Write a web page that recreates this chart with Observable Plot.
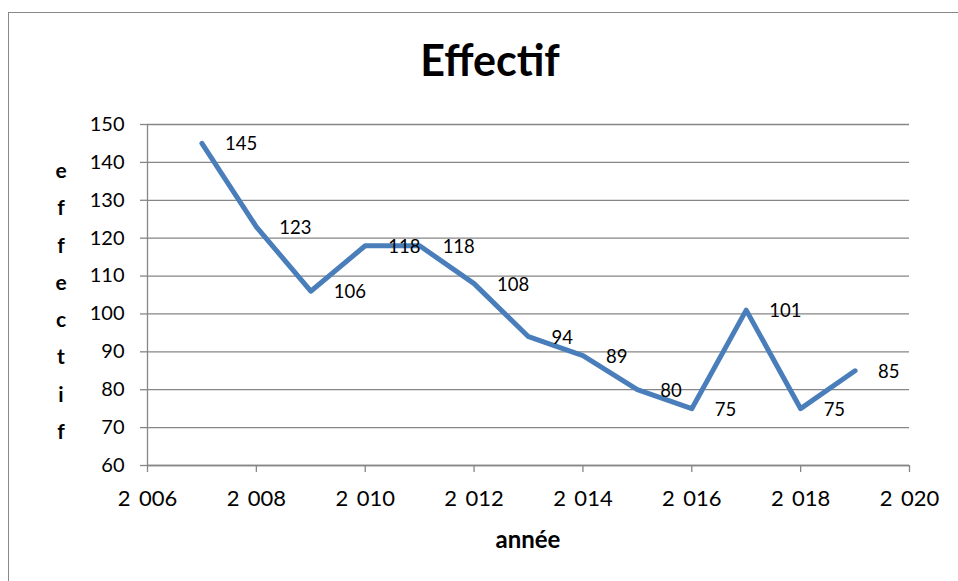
<!DOCTYPE html>
<html>
<head>
<meta charset="utf-8">
<script src="https://cdn.jsdelivr.net/npm/d3@7"></script>
<script src="https://cdn.jsdelivr.net/npm/@observablehq/plot@0.6"></script>
<style>
  html, body { margin: 0; padding: 0; background: #fff; overflow: hidden; }
  #wrap { position: relative; width: 958px; height: 581px; overflow: hidden; font-family: Lato, "Open Sans", sans-serif; }
  #frame { position: absolute; left: 8px; top: 12px; width: 1000px; height: 600px; border: 1.5px solid #888; box-sizing: border-box; }
  #title { position: absolute; left: 0; width: 980px; top: 34px; text-align: center; font-weight: 700; font-size: 43px; color: #000; }
  #xlabel { position: absolute; left: 0; width: 1056px; top: 524px; text-align: center; font-weight: 700; font-size: 24px; color: #000; }
  #ylabel { position: absolute; left: 50px; width: 22px; top: 151px; text-align: center; font-weight: 700; font-size: 21px; line-height: 37.3px; color: #000; }
  #chart { position: absolute; left: 0; top: 0; }
</style>
</head>
<body>
<div id="wrap">
  <div id="frame"></div>
  <div id="chart"></div>
  <div id="title">Effectif</div>
  <div id="ylabel"></div>
  <div id="xlabel">année</div>
</div>
<script>
const years = [2007, 2008, 2009, 2010, 2011, 2012, 2013, 2014, 2015, 2016, 2017, 2018, 2019];
const effectif = [145, 123, 106, 118, 118, 108, 94, 89, 80, 75, 101, 75, 85];
const xTicks = [2006, 2008, 2010, 2012, 2014, 2016, 2018, 2020];
const yTicks = [60, 70, 80, 90, 100, 110, 120, 130, 140, 150];
const yLabel = "effectif";

const data = years.map((y, i) => ({annee: y, effectif: effectif[i]}));
const fmtYear = d => `${Math.floor(d / 1000)}\u2009 ${String(d % 1000).padStart(3, "0")}`;

document.getElementById("ylabel").innerHTML = yLabel.split("").map(c => `<div>${c}</div>`).join("");

const grid = "#868686";
const chart = Plot.plot({
  width: 958,
  height: 581,
  marginLeft: 147,
  marginRight: 49,
  marginTop: 124,
  marginBottom: 116,
  style: {fontFamily: "Lato, 'Open Sans', sans-serif", background: "transparent", overflow: "visible"},
  x: {domain: [2006, 2020]},
  y: {domain: [60, 150]},
  marks: [
    Plot.gridY(yTicks, {stroke: grid, strokeOpacity: 1, strokeWidth: 1.3}),
    Plot.axisY(yTicks, {tickSize: 7, tickPadding: 16, fontSize: 20, stroke: grid, strokeWidth: 1.3, color: "#000", label: null}),
    Plot.axisX(xTicks, {tickSize: 7, tickPadding: 18, fontSize: 22, stroke: grid, strokeWidth: 1.3, color: "#000", label: null, tickFormat: fmtYear}),
    Plot.ruleX([2006], {stroke: grid, strokeWidth: 1.3}),
    Plot.ruleY([60], {stroke: grid, strokeWidth: 1.3}),
    Plot.line(data, {x: "annee", y: "effectif", stroke: "#4a7ebb", strokeWidth: 5, strokeLinejoin: "round", strokeLinecap: "round"}),
    Plot.text(data, {x: "annee", y: "effectif", text: d => String(d.effectif), dx: 23, dy: 1, textAnchor: "start", fontSize: 18.5, fill: "#000"})
  ]
});
document.getElementById("chart").appendChild(chart);
</script>
</body>
</html>
